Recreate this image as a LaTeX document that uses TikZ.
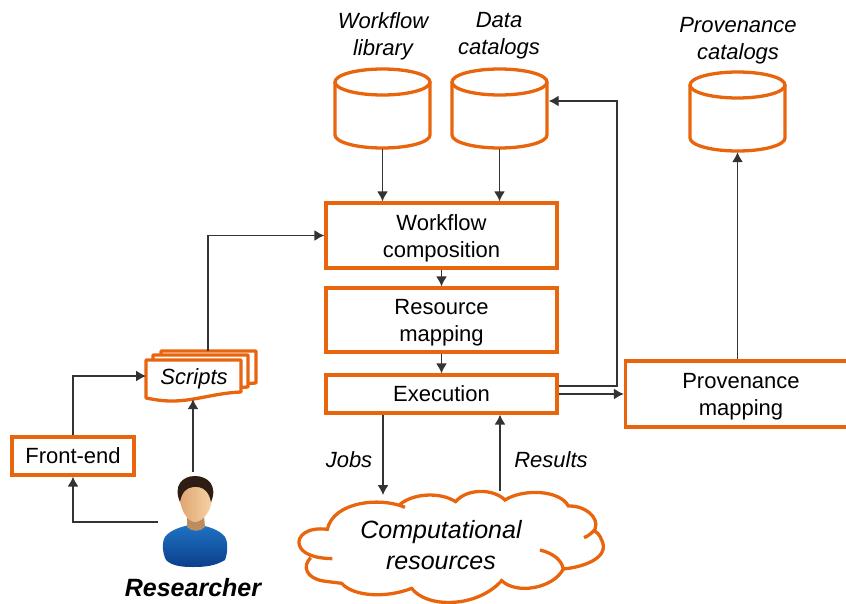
\documentclass[tikz,border=0pt]{standalone}
\usepackage{fontspec}
\setmainfont{Liberation Sans}
\usetikzlibrary{arrows.meta}
\definecolor{wforange}{HTML}{E8650E}
\definecolor{wfline}{HTML}{333333}
\definecolor{skinlight}{HTML}{F6D3A4}
\definecolor{skindark}{HTML}{DFA673}
\definecolor{hairbrown}{HTML}{2E1D14}
\definecolor{shirttop}{HTML}{1F74C4}
\definecolor{shirtlow}{HTML}{0B3F8C}
\tikzset{
  procbox/.style={draw=wforange,line width=3.3pt,fill=white,minimum width=231pt,align=center,inner sep=0pt},
  dbcyl/.style={minimum width=98pt,minimum height=82pt,inner sep=0pt},
  flow/.style={draw=wfline,line width=1.4pt,-{Latex[length=10pt,width=11pt]}},
  lbl/.style={align=center,font=\fontsize{22}{27}\selectfont\itshape,inner sep=0pt},
}
\begin{document}
\begin{tikzpicture}[x=1pt,y=-1pt,font=\fontsize{22}{27}\selectfont]
\useasboundingbox (0,0) rectangle (846,603);
% stores
\foreach \dbname/\cx/\cy in {library/382.5/82,datacat/499.5/82,provcat/737.5/85} {
  \node [dbcyl] (\dbname) at (\cx,\cy+26) {};
  \draw [wforange,line width=3.3pt] (\cx,\cy) ellipse [x radius=47.5,y radius=13];
  \draw [wforange,line width=3.3pt] (\cx-47.5,\cy) -- (\cx-47.5,\cy+53) arc [start angle=180,end angle=0,x radius=47.5,y radius=13] -- (\cx+47.5,\cy);
}
\node [lbl] (librarytxt) at (383,36) {Workflow\\library};
\node [lbl] (datatxt) at (499,36) {Data\\catalogs};
\node [lbl] (provtxt) at (738,41) {Provenance\\catalogs};
% processing chain
\node [procbox,minimum height=65pt] (composition) at (441.5,235.5) {};
\node [lbl,font=\fontsize{22}{27}\selectfont] (compositiontxt) at (441.5,238.5) {Workflow\\composition};
\node [procbox,minimum height=64pt] (mapping) at (441.5,320) {};
\node [lbl,font=\fontsize{22}{27}\selectfont] (mappingtxt) at (441.5,323) {Resource\\mapping};
\node [procbox,minimum height=38pt] (execution) at (441.5,394) {Execution};
\node [procbox,minimum height=66pt] (provmap) at (741,394) {};
\node [lbl,font=\fontsize{22}{27}\selectfont] (provmaptxt) at (741,397) {Provenance\\mapping};
\node [draw=wforange,line width=3.3pt,minimum width=122pt,minimum height=38pt,inner sep=0pt] (frontend) at (73,456) {Front-end};
% scripts
\foreach \dx/\dy in {15/-9,7/-5,0/0} {
  \draw [wforange,line width=3.3pt,fill=white,line join=round,shift={(\dx,\dy)}]
    (146,360) -- (241,360) -- (241,392) .. controls (215,393) and (195,401) .. (172,401) .. controls (160,401) and (152,399) .. (146,398) -- cycle;
}
\node [lbl,minimum width=95pt,minimum height=40pt] (scripts) at (194,379) {Scripts};
% cloud
\begin{scope}[shift={(290,370)},x=0.3333pt,y=-0.3333pt,wforange,line width=3.3pt]
\draw (345,412) .. controls (270,380) and (130,395) .. (112,478)
  .. controls (50,470) and (20,500) .. (28,525) .. controls (35,550) and (70,565) .. (127,566)
  (62,563) .. controls (35,590) and (50,625) .. (100,633) .. controls (120,636) and (140,638) .. (155,640)
  .. controls (190,680) and (290,685) .. (365,655)
  .. controls (410,715) and (560,715) .. (635,632)
  .. controls (680,675) and (790,655) .. (820,597)
  .. controls (890,590) and (960,560) .. (935,510) .. controls (930,495) and (920,485) .. (908,480)
  (882,503) .. controls (895,498) and (905,490) .. (915,478) .. controls (930,440) and (880,405) .. (835,408)
  .. controls (810,360) and (700,355) .. (645,390)
  .. controls (610,355) and (530,355) .. (497,395)
  .. controls (450,365) and (370,370) .. (330,403)
  (750,540) .. controls (790,550) and (815,570) .. (820,597);
\end{scope}
\node [lbl,minimum width=280pt,minimum height=90pt,font=\fontsize{25}{31}\selectfont\itshape] (cloud) at (441,545) {Computational\\resources};
% researcher
\node [minimum width=64pt,minimum height=92pt,inner sep=0pt] (researcher) at (195,522) {};
\shade [top color=shirttop,bottom color=shirtlow] (195,524) .. controls (208,526) and (220,530) .. (225,537) .. controls (228,542) and (228,552) .. (225,560) .. controls (215,566) and (205,567) .. (193,567) .. controls (182,567) and (172,566) .. (166,560) .. controls (162,552) and (162,542) .. (165,537) .. controls (170,530) and (182,526) .. (195,524) -- cycle;
\fill [skindark!85!black] (187,516) -- (204,516) -- (205,527) .. controls (200,532) and (192,532) .. (187,527) -- cycle;
\shade [left color=skindark,right color=skinlight] (180,498) .. controls (180,510) and (188,522) .. (195,522) .. controls (203,522) and (212,510) .. (212,498) .. controls (212,490) and (204,486) .. (195,486) .. controls (188,486) and (180,490) .. (180,498) -- cycle;
\fill [hairbrown] (180,502) .. controls (173,486) and (182,476) .. (195,476) .. controls (208,476) and (218,486) .. (211,502) .. controls (209,492) and (204,486) .. (193,487) .. controls (186,488) and (182,492) .. (180,502) -- cycle;
\node [inner sep=0pt,font=\fontsize{25}{30}\selectfont\bfseries\itshape] (researchertxt) at (193,588) {Researcher};
\node [lbl] (jobs) at (349,460) {Jobs};
\node [lbl] (results) at (551,460) {Results};
% named ends
\coordinate (jobsend) at (383,495);
\coordinate (resultsstart) at (500,491);
\coordinate (turn) at (617,101);
\coordinate (researcherup) at (193,472);
\coordinate (researcherleft) at (158,522);
\coordinate (scriptsout) at (208,351);
\coordinate (scriptsin) at (146,376);
% arrows
\draw [flow] (library.south) -- (library.south |- composition.north);
\draw [flow] (datacat.south) -- (datacat.south |- composition.north);
\draw [flow] (composition) -- (mapping);
\draw [flow] (mapping) -- (execution);
\draw [flow] (execution.south -| jobsend) -- (jobsend);
\draw [flow] (resultsstart) -- (resultsstart |- execution.south);
\draw [flow] (execution) -- (provmap);
\draw [flow] ([yshift=8pt]execution.east) -| (turn) -- (datacat.east |- turn);
\draw [flow] (provcat.south |- provmap.north) -- (provcat.south);
\draw [flow] (scriptsout) |- (composition.west);
\draw [flow] (frontend.north) |- (scriptsin);
\draw [flow] (researcherleft) -| (frontend.south);
\draw [flow] (researcherup) -- (researcherup |- scripts.south);
\end{tikzpicture}
\end{document}
